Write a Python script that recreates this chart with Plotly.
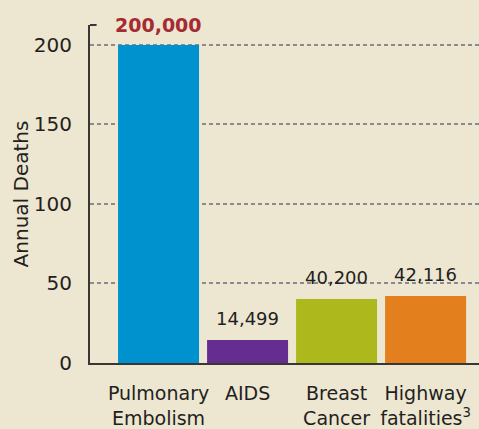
import plotly.graph_objects as go

# data (deaths in thousands)
causes = ["Pulmonary<br>Embolism", "AIDS", "Breast<br>Cancer", "Highway<br>fatalities<sup>3</sup>"]
deaths_k = [200, 14.499, 40.2, 42.116]
bar_colors = ["#0092cf", "#662d91", "#adb81c", "#e47f1e"]
label_colors = ["#a52a31", "#231f20", "#231f20", "#231f20"]
y_ticks = [0, 50, 100, 150, 200]

BG = "#ede6d1"
FONT = "DejaVu Sans, Arial"

fig = go.Figure()
fig.add_trace(go.Bar(
    x=causes,
    y=deaths_k,
    marker=dict(color=bar_colors, line=dict(width=0)),
    hoverinfo="skip",
))

# value labels above bars
for i, (c, v) in enumerate(zip(causes, deaths_k)):
    fig.add_annotation(
        x=c, y=v,
        text=f"{v * 1000:,.0f}",
        showarrow=False,
        yanchor="bottom",
        yshift=7 if i == 0 else 9,
        font=dict(family=FONT, size=19 if i == 0 else 18,
                  color=label_colors[i],
                  weight="bold" if i == 0 else "normal"),
    )

# small tick at the top of the y axis line
fig.add_shape(type="line", xref="paper", yref="paper",
              x0=0, x1=0.017, y0=1, y1=1,
              line=dict(color="#3a3637", width=2))

fig.update_layout(
    width=479, height=429,
    paper_bgcolor=BG,
    plot_bgcolor=BG,
    margin=dict(l=90, r=0, t=25, b=64),
    bargap=0.09,
    showlegend=False,
    font=dict(family=FONT, color="#231f20", size=18),
    xaxis=dict(
        type="category",
        range=[-0.77, 3.6],
        showline=True, linecolor="#3a3637", linewidth=2,
        ticks="", showgrid=False,
        tickfont=dict(size=19),
        ticklabelstandoff=12,
    ),
    yaxis=dict(
        range=[0, 212.5],
        tickvals=y_ticks,
        showline=True, linecolor="#3a3637", linewidth=2,
        ticks="", zeroline=False,
        showgrid=True, gridcolor="#8a8a90", gridwidth=1.5, griddash="4px,3px",
        tickfont=dict(size=20),
        ticklabelstandoff=12,
        title=dict(text="Annual Deaths", font=dict(size=20), standoff=0),
    ),
)

# drop the page's default body margin so the figure fills the window
fig.write_html("out.html", config={"displayModeBar": False},
               post_script="document.body.style.margin='0';")
